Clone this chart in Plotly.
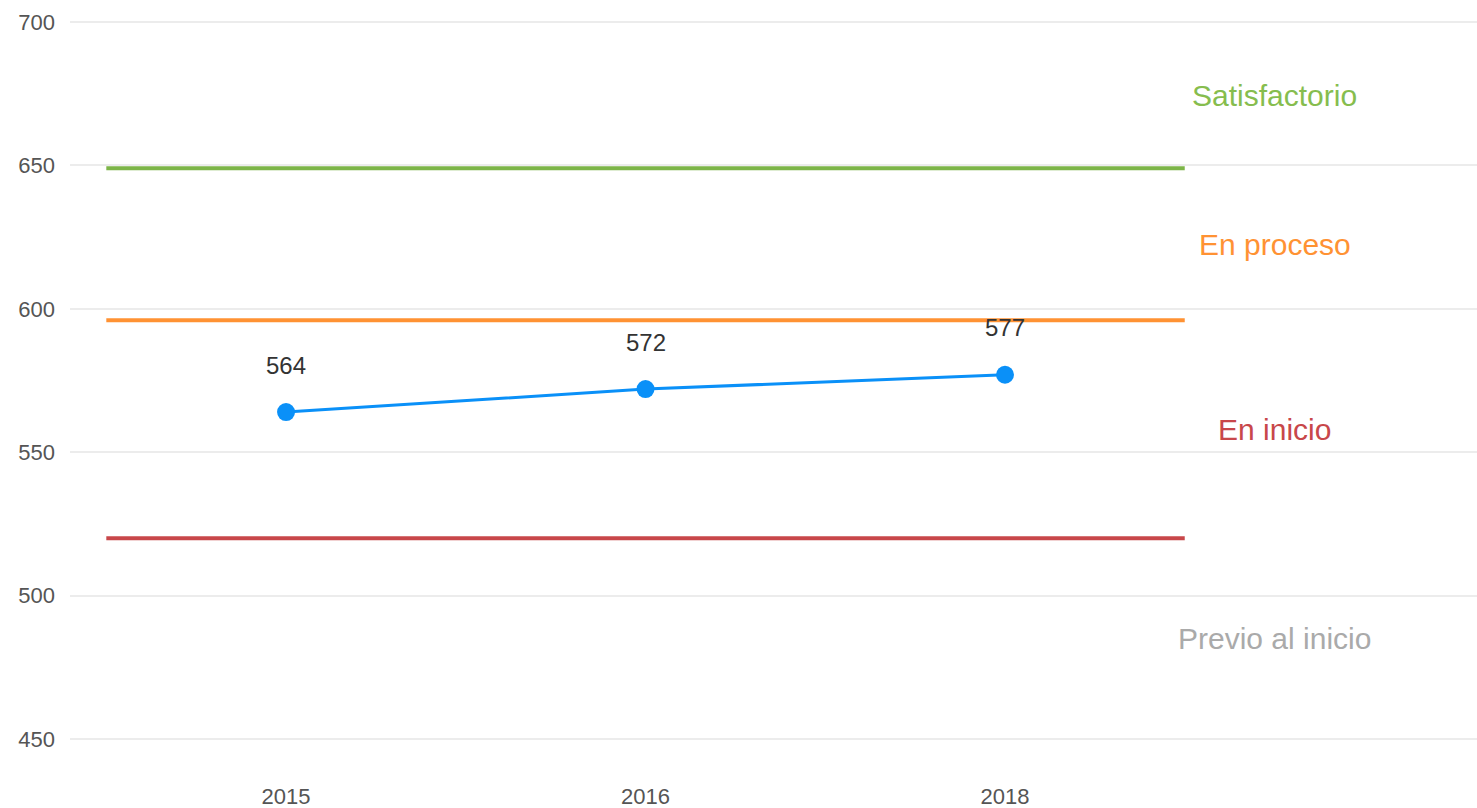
import plotly.graph_objects as go

# Scores by year
years = ["2015", "2016", "2018"]
scores = [564, 572, 577]

# Achievement level cut points and labels
cut_points = [520, 596, 649]
cut_colors = ["#c8474a", "#ff9233", "#7db548"]
level_names = ["Previo al inicio", "En inicio", "En proceso", "Satisfactorio"]
level_colors = ["#aaaaaa", "#c8474a", "#ff9233", "#86bd4e"]
y_min, y_max = 450, 700
y_ticks = [450, 500, 550, 600, 650, 700]

xs = list(range(len(years)))

fig = go.Figure()

# Threshold lines spanning all categories
for cp, col in zip(cut_points, cut_colors):
    fig.add_trace(go.Scatter(
        x=[xs[0] - 0.5, xs[-1] + 0.5], y=[cp, cp], mode="lines",
        line=dict(color=col, width=4), hoverinfo="skip", showlegend=False,
    ))

# Score series
fig.add_trace(go.Scatter(
    x=xs, y=scores, mode="lines+markers",
    line=dict(color="#0a90f8", width=3),
    marker=dict(color="#0a90f8", size=18),
    showlegend=False,
))

# Value labels above points
for x, v in zip(xs, scores):
    fig.add_annotation(x=x, y=v, text=str(v), showarrow=False, yshift=47,
                       font=dict(size=24, color="#333333", family="Liberation Sans, Arial"))

# Level labels at band midpoints
bounds = [y_min] + cut_points + [y_max]
for i, (name, col) in enumerate(zip(level_names, level_colors)):
    mid = (bounds[i] + bounds[i + 1]) / 2
    fig.add_annotation(x=2.75, y=mid, text=name, showarrow=False,
                       font=dict(size=30, color=col, family="Liberation Sans, Arial"))

# Pad the range slightly so the edge gridlines at 450 and 700 are drawn
pad = 0.7

fig.update_layout(
    width=1477, height=808,
    margin=dict(l=70, r=0, t=20, b=67),
    paper_bgcolor="white", plot_bgcolor="white",
    font=dict(family="Liberation Sans, Arial", color="#555555"),
    xaxis=dict(
        range=[-0.601, 3.313], tickvals=xs, ticktext=years,
        showgrid=False, zeroline=False, showline=False, ticks="",
        tickfont=dict(size=22, color="#555555"), ticklabelstandoff=40,
        automargin=False,
    ),
    yaxis=dict(
        range=[y_min - pad, y_max + pad], tickvals=y_ticks,
        showgrid=True, gridcolor="#ececec", gridwidth=2,
        zeroline=False, showline=False, ticks="",
        tickfont=dict(size=22, color="#555555"), ticklabelstandoff=14,
        automargin=False,
    ),
)

fig.write_html("out.html")
